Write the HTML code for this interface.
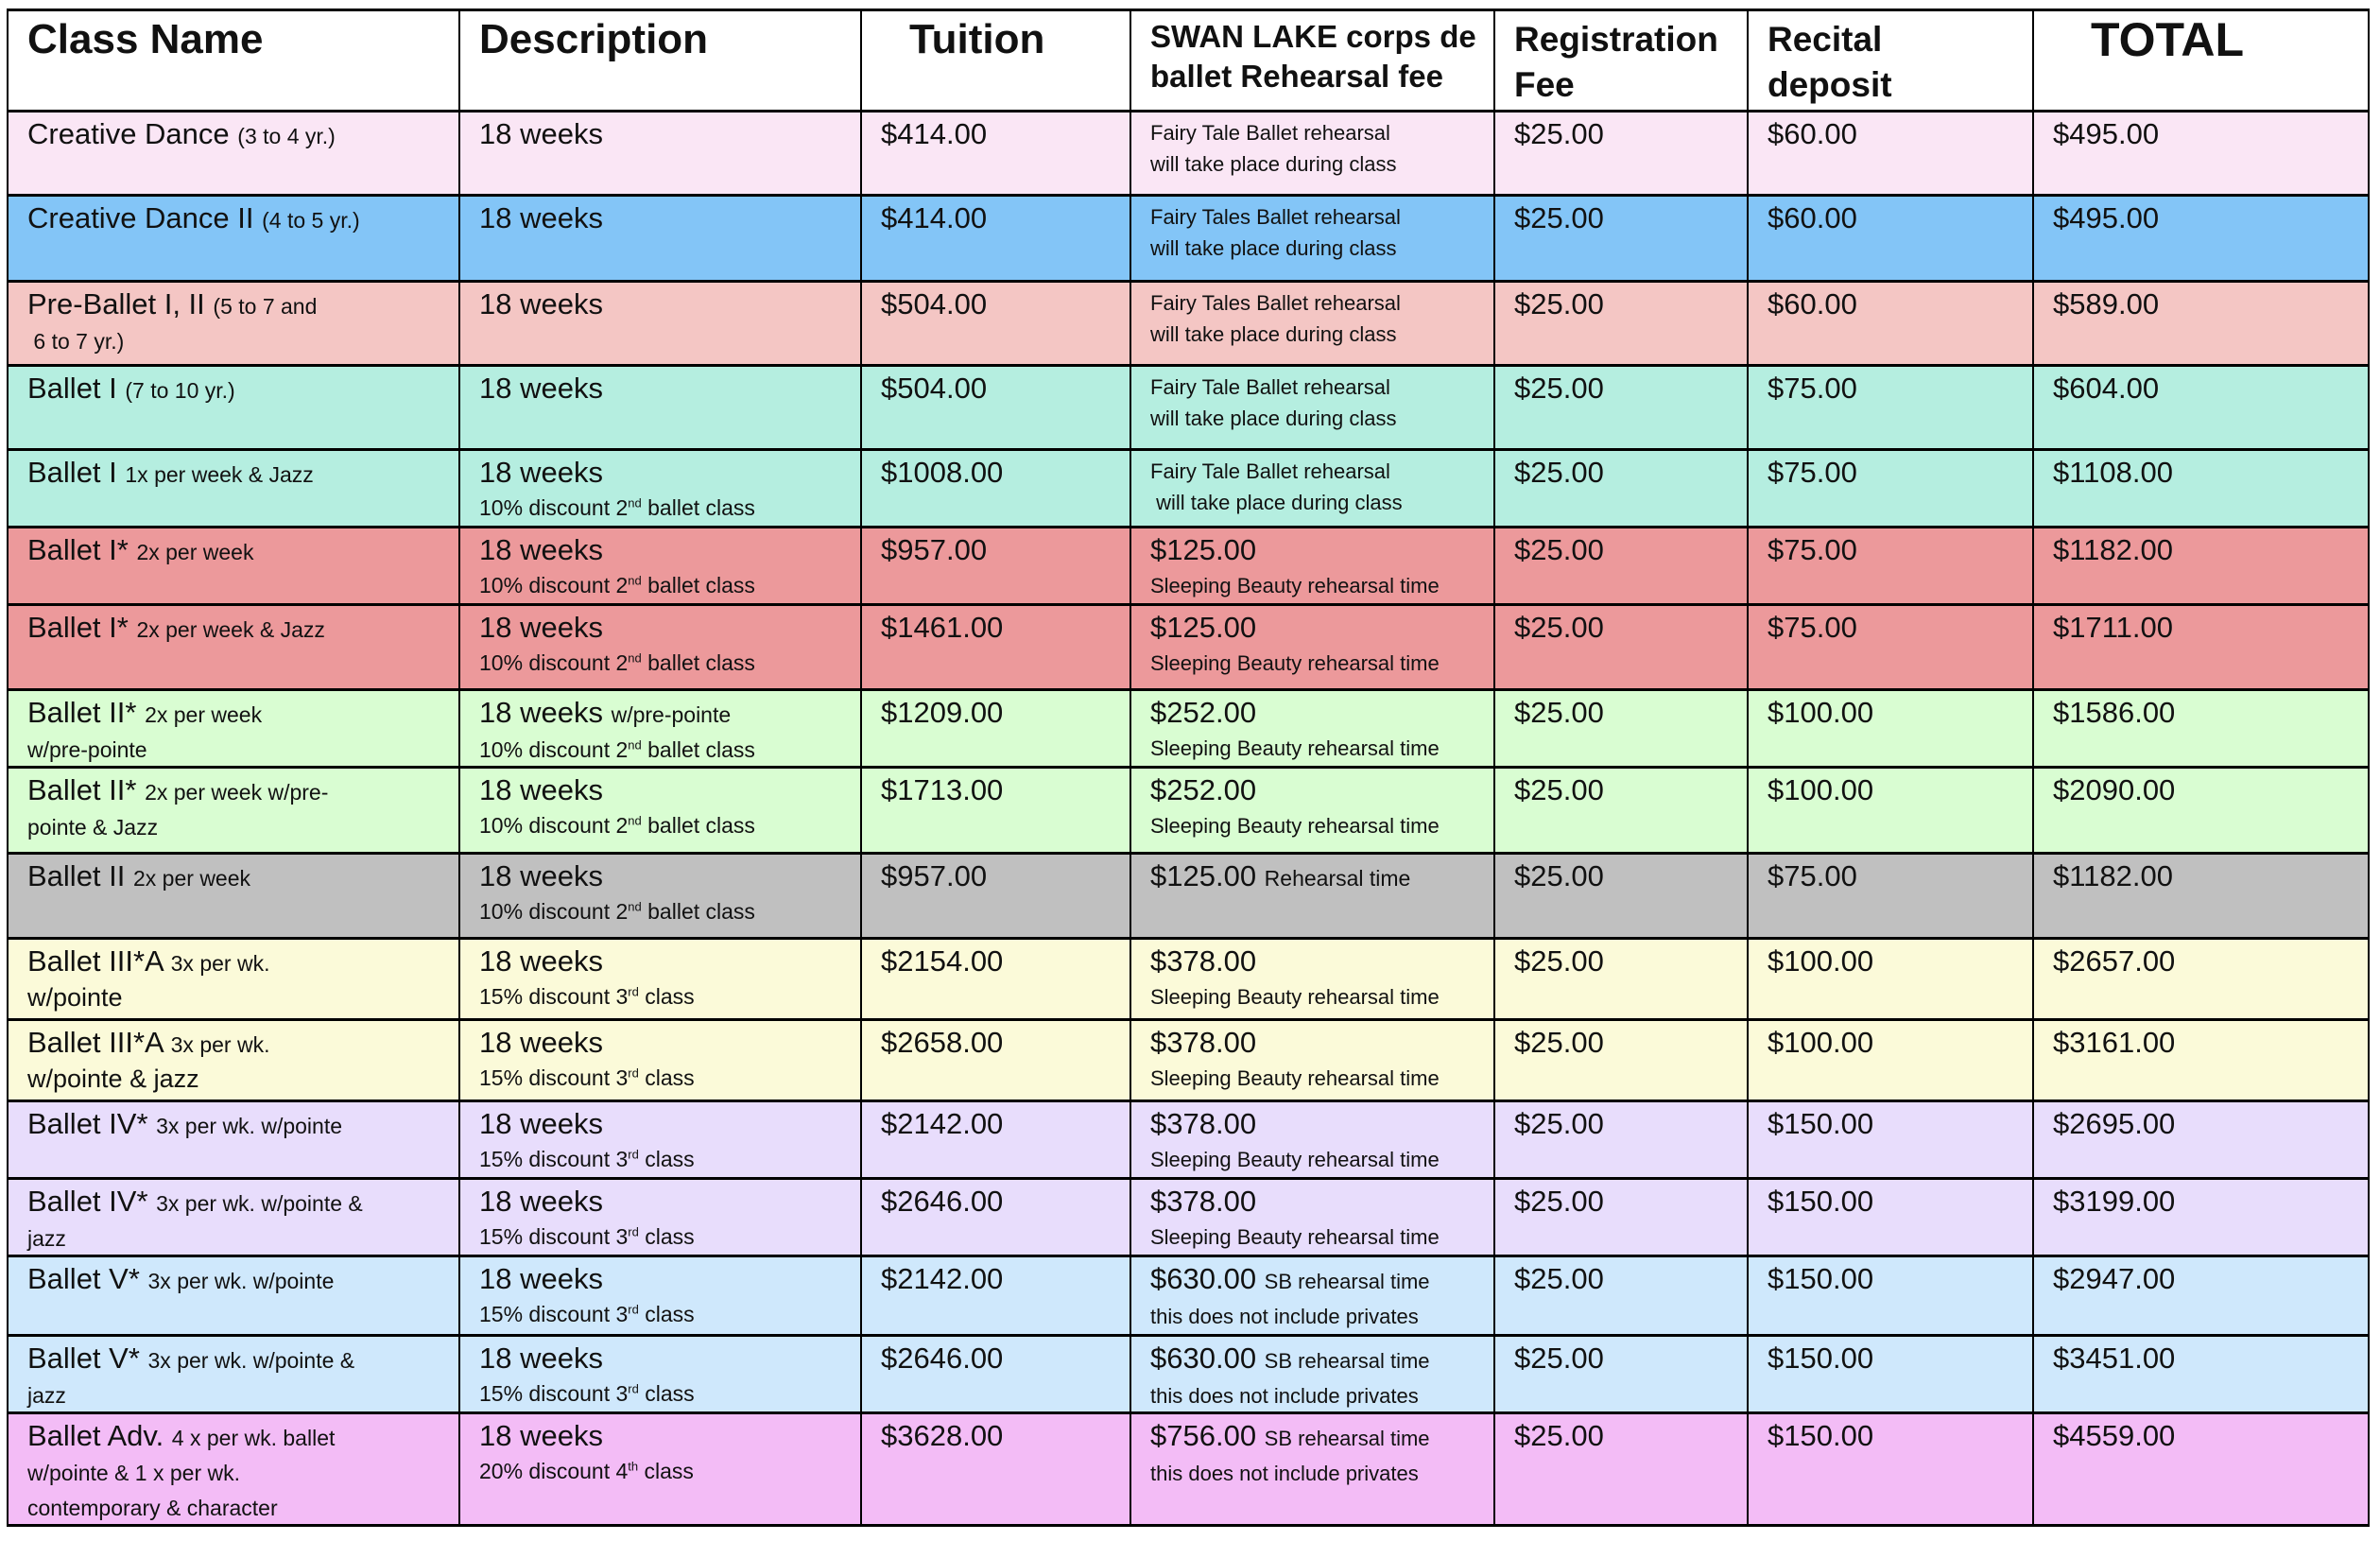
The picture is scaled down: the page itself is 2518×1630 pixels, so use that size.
<!DOCTYPE html>
<html><head><meta charset="utf-8"><style>
html,body{margin:0;padding:0;background:#fff;width:2518px;height:1630px;overflow:hidden}
table{position:absolute;left:7px;top:9px;border-collapse:collapse;table-layout:fixed;font-family:"Liberation Sans Narrow","Liberation Sans",sans-serif;color:#111}
td{border:3px solid #000;border-left-width:2px;border-right-width:2px;vertical-align:top;padding:5px 0 0 20px;font-size:31px;line-height:35px;overflow:hidden;white-space:nowrap}
th{border:3px solid #000;border-left-width:2px;border-right-width:2px;vertical-align:top;text-align:left;padding:4px 0 0 20px;font-size:44px;line-height:52px;font-weight:bold;white-space:nowrap}
th.s{font-size:33px;line-height:42px;padding-top:6px}
.m{font-size:23px;line-height:33px}
.sm{font-size:22px;line-height:33px}
sup{font-size:13px;line-height:0}
tr.a td{background:#fae6f5}tr.b td{background:#83c5f7}tr.c td{background:#f4c6c4}tr.d td{background:#b5eee0}
tr.e td{background:#ec999b}tr.f td{background:#d9fdd2}tr.g td{background:#c0c0c0}tr.h td{background:#fbfad9}
tr.i td{background:#e8ddfc}tr.j td{background:#cfe8fc}tr.k td{background:#f3bcf6}
</style></head><body>
<table>
<colgroup><col style="width:478px"><col style="width:425px"><col style="width:285px"><col style="width:385px"><col style="width:268px"><col style="width:302px"><col style="width:355px"></colgroup>
<tr style="height:107px"><th>Class Name</th><th>Description</th><th style="padding-left:50px">Tuition</th><th class="s">SWAN LAKE corps de<br>ballet Rehearsal fee</th><th class="s" style="font-size:37px;line-height:48px">Registration<br>Fee</th><th class="s" style="font-size:37px;line-height:48px">Recital<br>deposit</th><th style="padding-left:60px;font-size:50px">TOTAL</th></tr>
<tr class="a" style="height:89px"><td>Creative Dance <span class="m">(3 to 4 yr.)</span></td><td>18 weeks</td><td>$414.00</td><td class="sm">Fairy Tale Ballet rehearsal<br>will take place during class</td><td>$25.00</td><td>$60.00</td><td>$495.00</td></tr>
<tr class="b" style="height:91px"><td>Creative Dance II <span class="m">(4 to 5 yr.)</span></td><td>18 weeks</td><td>$414.00</td><td class="sm">Fairy Tales Ballet rehearsal<br>will take place during class</td><td>$25.00</td><td>$60.00</td><td>$495.00</td></tr>
<tr class="c" style="height:89px"><td>Pre-Ballet I, II <span class="m">(5 to 7 and<br>&nbsp;6 to 7 yr.)</span></td><td>18 weeks</td><td>$504.00</td><td class="sm">Fairy Tales Ballet rehearsal<br>will take place during class</td><td>$25.00</td><td>$60.00</td><td>$589.00</td></tr>
<tr class="d" style="height:89px"><td>Ballet I <span class="m">(7 to 10 yr.)</span></td><td>18 weeks</td><td>$504.00</td><td class="sm">Fairy Tale Ballet rehearsal<br>will take place during class</td><td>$25.00</td><td>$75.00</td><td>$604.00</td></tr>
<tr class="d" style="height:82px"><td>Ballet I <span class="m">1x per week &amp; Jazz</span></td><td>18 weeks<br><span class="m">10% discount 2<sup>nd</sup> ballet class</span></td><td>$1008.00</td><td class="sm">Fairy Tale Ballet rehearsal<br>&nbsp;will take place during class</td><td>$25.00</td><td>$75.00</td><td>$1108.00</td></tr>
<tr class="e" style="height:82px"><td>Ballet I* <span class="m">2x per week</span></td><td>18 weeks<br><span class="m">10% discount 2<sup>nd</sup> ballet class</span></td><td>$957.00</td><td>$125.00<br><span class="sm">Sleeping Beauty rehearsal time</span></td><td>$25.00</td><td>$75.00</td><td>$1182.00</td></tr>
<tr class="e" style="height:90px"><td>Ballet I* <span class="m">2x per week &amp; Jazz</span></td><td>18 weeks<br><span class="m">10% discount 2<sup>nd</sup> ballet class</span></td><td>$1461.00</td><td>$125.00<br><span class="sm">Sleeping Beauty rehearsal time</span></td><td>$25.00</td><td>$75.00</td><td>$1711.00</td></tr>
<tr class="f" style="height:82px"><td>Ballet II* <span class="m">2x per week<br>w/pre-pointe</span></td><td>18 weeks <span class="m">w/pre-pointe<br>10% discount 2<sup>nd</sup> ballet class</span></td><td>$1209.00</td><td>$252.00<br><span class="sm">Sleeping Beauty rehearsal time</span></td><td>$25.00</td><td>$100.00</td><td>$1586.00</td></tr>
<tr class="f" style="height:91px"><td>Ballet II* <span class="m">2x per week w/pre-<br>pointe &amp; Jazz</span></td><td>18 weeks<br><span class="m">10% discount 2<sup>nd</sup> ballet class</span></td><td>$1713.00</td><td>$252.00<br><span class="sm">Sleeping Beauty rehearsal time</span></td><td>$25.00</td><td>$100.00</td><td>$2090.00</td></tr>
<tr class="g" style="height:90px"><td>Ballet II <span class="m">2x per week</span></td><td>18 weeks<br><span class="m">10% discount 2<sup>nd</sup> ballet class</span></td><td>$957.00</td><td>$125.00 <span class="m">Rehearsal time</span></td><td>$25.00</td><td>$75.00</td><td>$1182.00</td></tr>
<tr class="h" style="height:86px"><td>Ballet III*A <span class="m">3x per wk.</span><br><span class="m" style="font-size:27px">w/pointe</span></td><td>18 weeks<br><span class="m">15% discount 3<sup>rd</sup> class</span></td><td>$2154.00</td><td>$378.00<br><span class="sm">Sleeping Beauty rehearsal time</span></td><td>$25.00</td><td>$100.00</td><td>$2657.00</td></tr>
<tr class="h" style="height:86px"><td>Ballet III*A <span class="m">3x per wk.</span><br><span class="m" style="font-size:27px">w/pointe &amp; jazz</span></td><td>18 weeks<br><span class="m">15% discount 3<sup>rd</sup> class</span></td><td>$2658.00</td><td>$378.00<br><span class="sm">Sleeping Beauty rehearsal time</span></td><td>$25.00</td><td>$100.00</td><td>$3161.00</td></tr>
<tr class="i" style="height:82px"><td>Ballet IV* <span class="m">3x per wk. w/pointe</span></td><td>18 weeks<br><span class="m">15% discount 3<sup>rd</sup> class</span></td><td>$2142.00</td><td>$378.00<br><span class="sm">Sleeping Beauty rehearsal time</span></td><td>$25.00</td><td>$150.00</td><td>$2695.00</td></tr>
<tr class="i" style="height:82px"><td>Ballet IV* <span class="m">3x per wk. w/pointe &amp;<br>jazz</span></td><td>18 weeks<br><span class="m">15% discount 3<sup>rd</sup> class</span></td><td>$2646.00</td><td>$378.00<br><span class="sm">Sleeping Beauty rehearsal time</span></td><td>$25.00</td><td>$150.00</td><td>$3199.00</td></tr>
<tr class="j" style="height:84px"><td>Ballet V* <span class="m">3x per wk. w/pointe</span></td><td>18 weeks<br><span class="m">15% discount 3<sup>rd</sup> class</span></td><td>$2142.00</td><td>$630.00 <span class="sm">SB rehearsal time</span><br><span class="sm">this does not include privates</span></td><td>$25.00</td><td>$150.00</td><td>$2947.00</td></tr>
<tr class="j" style="height:82px"><td>Ballet V* <span class="m">3x per wk. w/pointe &amp;<br>jazz</span></td><td>18 weeks<br><span class="m">15% discount 3<sup>rd</sup> class</span></td><td>$2646.00</td><td>$630.00 <span class="sm">SB rehearsal time</span><br><span class="sm">this does not include privates</span></td><td>$25.00</td><td>$150.00</td><td>$3451.00</td></tr>
<tr class="k" style="height:114px"><td>Ballet Adv. <span class="m">4 x per wk. ballet<br>w/pointe &amp; 1 x per wk.<br>contemporary &amp; character</span></td><td>18 weeks<br><span class="m">20% discount 4<sup>th</sup> class</span></td><td>$3628.00</td><td>$756.00 <span class="sm">SB rehearsal time</span><br><span class="sm">this does not include privates</span></td><td>$25.00</td><td>$150.00</td><td>$4559.00</td></tr>
</table>
</body></html>
